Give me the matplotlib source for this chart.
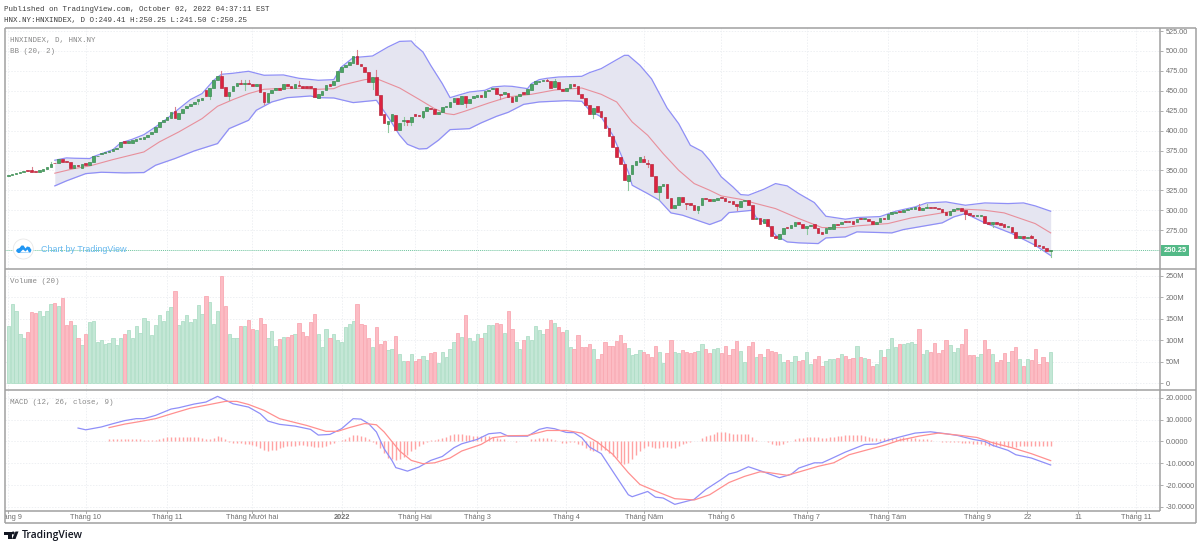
import numpy as np
import matplotlib
matplotlib.use("Agg")
import matplotlib.pyplot as plt
from matplotlib.patches import Circle, Polygon, Rectangle

# open / close of every daily candle
opens = [343.5,344.5,346,347,347.5,349.5,350,349,348,349,352,354,359.5,359,364.5,362,360.5,353,357.5,353.5,
 359,357.5,360.7,367.8,370.3,371.6,372.8,374.5,376.6,379.5,386.6,385,385,387.5,389,390,392,396,398,404.5,
 411,413.5,416,425,415,422,429,431,433,437,439,450.5,444,453,463,469,455,444,450,456,
 460,458.5,460,458,456,459,449,436,447,451,453,452,458,456,454,457.5,456,456,455.5,454,
 441,445,450.5,458,457,462,474,480,482,485,493.5,483,480,474,461,467,445,421,408,412,
 420,401,412,413,411,420.5,420,417,425,429,427.5,421,424,430,430,436,441,434,443,435,
 441,442.3,444.3,442.3,449.8,452.3,453,446.4,445.6,447.7,442.7,436.8,443.1,448.1,446.4,451.5,459,461,461.9,464,
 461.9,454.8,461,452.3,449.8,453.5,459,456.5,446.4,441.4,431.8,421.4,430.6,424.7,416.8,403.8,393.4,380,367,358.7,
 336.9,345.3,357.4,360.7,364.1,359.5,358.7,342.8,323.1,331.1,333.2,316,302.6,307.2,316.4,309.8,309.8,307.2,300.1,306.4,
 315.6,313.9,311.4,312.7,316.9,315.6,312.3,311.4,307.7,304.3,311.4,313.1,306.4,288.9,291,283.8,288.9,280.5,268.4,264.6,
 270,278.8,278,280.1,285.5,283,278.4,280.1,282.6,278,273,272.1,277.1,276.3,282.6,282.6,286.4,286.4,287.2,285.1,
 290.1,289.3,289.3,286.4,283.4,285.5,290.9,289.3,295.1,297.2,298.9,298.5,301,301.8,302.2,304.3,301,303.5,304.3,304.3,
 303.5,301.8,298,294.7,299.3,301.8,302.6,300.6,296.8,294.7,293,293.5,293,286,283,286,284.3,282.6,278.8,278.8,
 273.4,265.4,267.5,265,267.5,264.6,256.7,255.8,252.9,249.41]
closes = [344.5,346,347,348.5,349.5,349,348.5,348,350,352.5,354,358,359,364,361,360.5,353,357,356,358,
 357.5,361,367.8,368.7,371.6,372.8,374.5,376.6,378.3,385.8,385,387.5,388,389,390.5,392.5,395,398,404.5,411,
 413.5,417,424,416,422,427.5,431,433,436,439.5,441,443,453,463,469,454,444,449,456,460,
 458.5,459.5,458,456,459,448,436,447,451,453,451.5,458,456,453.5,458,456,454,454,453,442,
 445.5,450,457,456,462,474.5,480,482,486,493.5,483,481,474,461,467,445,420,409,412,421,
 401,409,412,411,416.5,418,418,425,430,427,421,424,430,431.5,436.5,441,434,443,435,440,
 443,444.3,441.8,449.8,451.5,453.1,445.6,445.2,448.5,441.8,436,443.9,446.4,446.4,451.9,459,461.9,462.7,463.2,461.9,
 453.5,461.9,452.7,450.2,454,459,456.5,446.4,441.4,431.8,420.9,428.1,423.4,416.8,403.8,393.4,380,367,358.7,337.8,
 344.9,357.4,361.6,367,361.2,358.7,343.2,323.1,330.6,333.2,316,302.6,307.2,316.4,310.6,308.5,307.2,300.1,306,315.6,
 313.9,311.4,313.9,316,315.2,312.3,310.6,307.7,306,311.4,313.1,307.2,288.9,291,283.4,288.9,280.9,268.4,265,270,
 278.4,278,281.7,285.1,283.4,278,280.1,281.7,278,272.1,270.9,278,278.8,282.6,281.7,286,285.1,285.5,282.6,289.3,
 289.3,290.1,286.4,283.4,285.5,290.1,289.3,295.1,297.6,298.5,298,301,302.2,303.1,304.3,300.1,303.5,304.7,303.1,302.6,
 301.8,297.6,294.7,299.3,301.4,302.6,299.3,295.1,294.3,293,293.9,293.9,284.7,283,285.1,283.4,281.7,278.8,280.5,273,
 265,267.5,265.9,266.3,265,255.4,255,252.9,249.6,250.25]

# the wicks that can actually be seen at this size
wick_hi = {6:355,11:361,43:430,55:475,60:463,61:464,62:464,75:462,90:500.8,95:475.7,102:417,139:465,141:465.2,
           164:367.9,165:362.8,235:308.5,237:308.5,264:268.8}
wick_lo = {49:434,52:440,57:439,61:450.6,66:433,94:452.7,98:398.4,102:406.7,103:406.7,104:406.7,107:416,118:429.7,
           127:439.3,151:416.3,160:325.2,165:354.5,168:313.5,175:302.2,178:297.2,188:300.1,206:270.9,247:289.7,
           254:279.2,269:241.5}

# Bollinger bands (bar, value)
bb_up_x = [12,15,17,21,22,27,29,32,35,38,41,43,47,50,53,55,58,62,66,71,75,80,84,86,89,94,98,101,104,105,107,109,112,114,116,
           119,123,125,128,130,134,135,137,139,142,148,150,153,157,159,160,163,166,170,173,176,179,181,184,187,189,191,195,198,
           201,204,208,211,216,219,225,229,234,237,242,247,252,258,262,265,269]
bb_up = [362.9,365.8,365.4,365,367.5,376.2,384.6,389.2,395,404.7,415.1,423.5,439,446.5,463.2,470.7,472,474.5,469.5,469.9,465.7,
         463.2,464,480,491.6,493.7,505,512,512.5,507,498.7,482,459,441.4,444.3,448.5,450.6,454.8,456,455.6,452.7,459,464,465.7,
         467.3,468.2,472.8,477.8,489,494.5,494.5,482,465,428.5,408.8,381.7,374.1,362.8,342,329.4,319.8,319,326.5,333.6,330.7,
         321,309.8,292.6,288.9,291,292.2,298.9,304.3,309.3,310.6,306.4,309.3,308.5,309.3,305.6,298.9]
bb_mid_x = [12,17,21,27,35,39,44,50,54,58,62,66,71,75,80,84,86,92,95,101,106,110,113,115,118,124,129,135,141,148,153,157,161,
            165,169,173,177,181,184,189,193,198,204,210,216,219,227,233,241,247,252,257,265,269]
bb_mid = [346.6,352.4,355.7,363.7,373.3,385.9,398.4,415.1,430.6,439,446.5,451.9,453.1,453.1,451.9,452.7,457,464,465.3,453.5,439.3,
          427.6,421.4,420.1,424.7,434.7,442.3,445.6,451,453.5,445.6,436,410.9,394.2,371.2,350.3,333.6,325.2,318.1,313.9,308.5,
          302.2,289.7,278.4,278.4,280.5,283.4,290.5,296.8,301.4,300.1,296.8,283.4,271.7]
bb_lo_x = [12,15,20,24,30,35,38,43,48,54,57,62,64,68,72,78,80,84,89,95,98,101,103,106,108,111,114,119,122,126,129,133,137,144,
           148,150,153,156,160,161,165,168,171,174,179,181,184,186,192,193,196,198,201,204,209,211,216,219,228,231,241,244,247,
           252,259,265,269]
bb_lo = [330.7,337,346.1,347.8,347,347.4,356.6,365,374.6,383.8,402.6,413,425.6,436,441.4,443.5,441.4,441,435.2,438.1,417.2,394.2,
         382.9,377,377.5,388,401.3,402.5,409.7,418,423,433,436,437.6,436.8,425.5,417.2,394.2,348.2,331.5,321,312.7,296.8,293.9,
         285.5,282.2,287.6,297.2,300.1,291,282.6,268.8,260.4,259.2,258.3,265.4,266.7,273,271.7,275.9,284.3,291.8,296,284.3,
         270.9,256.2,243.3]

# volume in millions, one per candle
volumes = [133,184,168,116,105,119,165,164,169,157,169,184,186,180,198,135,145,135,105,89,
 114,143,144,96,102,92,94,105,89,105,114,123,106,133,117,151,145,113,136,160,
 145,168,178,216,135,145,159,143,150,182,161,204,190,139,168,251,180,116,106,106,
 133,133,148,126,124,153,138,105,122,88,103,108,108,113,115,140,120,110,143,161,
 115,85,127,105,115,101,97,131,139,144,184,138,135,106,85,130,91,98,78,80,
 111,68,52,52,68,52,57,64,54,70,74,47,72,62,81,97,118,108,159,105,
 99,116,105,118,136,136,140,137,118,168,126,96,81,102,111,101,133,123,115,126,
 148,140,130,119,123,84,81,113,85,84,92,81,57,68,97,87,88,99,113,95,
 83,66,68,77,72,68,61,88,72,47,71,102,72,71,77,74,71,72,75,91,
 80,71,80,83,71,88,66,79,99,75,50,86,97,62,68,61,80,75,74,68,
 49,54,49,63,51,54,73,45,57,63,40,51,56,57,58,68,64,57,60,86,
 62,59,57,41,45,77,62,79,106,84,91,91,93,97,92,127,68,77,72,93,
 71,78,101,89,72,83,91,127,66,66,62,68,100,79,68,50,54,70,50,75,
 84,56,41,56,54,81,45,61,50,73]

# MACD lines (bar, value)
macd_x = [18,20,24,27,30,33,35,38,42,44,48,51,54,55,58,62,65,67,70,74,78,80,83,86,89,91,93,95,97,99,100,101,103,106,109,112,115,
          117,121,124,127,129,134,137,139,141,144,146,148,150,153,156,160,161,165,167,169,172,177,180,184,186,188,191,195,199,
          202,204,208,210,212,216,221,224,227,230,234,238,242,245,249,252,254,258,260,264,269]
macd = [6.1,5.3,6.6,8.1,9.5,10.4,10.4,11.9,14.8,15.4,17.1,18,20.6,19.8,17.2,15.7,12.7,9.3,7.8,7,5.5,2.9,3.2,5.8,10.4,10.2,8.1,
        4.3,-3.4,-8.7,-12,-12.5,-13.6,-11.7,-8.7,-6.9,-2.9,-1.1,0.9,3.5,4,2.4,2.4,5.5,6.3,5.8,4.1,4,1.7,-2.6,-5.6,-13.7,-24.4,
        -25.3,-22.9,-25.5,-25.9,-28.8,-26.5,-22,-17.4,-14.9,-14,-11.6,-14,-16.6,-15.1,-12.2,-9.8,-9.8,-8.2,-4.9,-1.4,-1.2,0.5,
        2,3.8,4.4,3.5,2.7,0.9,0,-1.8,-4.1,-6.1,-7.6,-10.8]
signal_x = [26,30,34,38,43,47,52,56,59,62,66,70,77,82,85,88,92,95,97,101,104,107,110,114,117,122,125,129,134,139,144,148,152,
            156,160,163,167,172,177,181,186,190,194,196,201,204,209,213,217,222,226,230,235,240,245,250,254,259,264,269]
signal = [6.3,7.9,9.1,10.4,13.1,15.2,16.9,18.3,18.3,16.9,14.2,10.4,7.3,4.6,4.6,6.3,8.2,7.6,4.3,-4.4,-8.7,-10.2,-9.8,-7.6,-4.4,
          -1.4,1.7,2.6,2.7,5,5,3.8,-0.3,-5.9,-14.3,-19.7,-22.7,-26.2,-26.8,-24.4,-18.8,-16,-13.9,-14.2,-15.5,-14,-11.4,-9.8,
          -6.1,-3.7,-1.8,0.5,2.4,3.8,2.9,1.8,-0.6,-2.9,-5.6,-8.8]
hist_start = 26
hist = [0.9,1,1,1.1,1.2,1.2,1.2,1,0.9,0.8,0.7,0.6,0.6,0.9,1.5,1.9,1.9,2.2,2,1.9,1.8,1.8,1.8,1.8,1.6,1.3,1.2,1.7,2.3,2.2,1.2,
 -0.5,-0.6,-0.7,-0.8,-1,-1.2,-1.8,-2.3,-3,-4,-4.2,-4,-3.8,-3.2,-2.6,-2.3,-2,-1.9,-1.8,-1.8,-1.9,-2.1,-2.5,-2.7,-2.4,-2,-1.4,-0.9,
 0.4,0.7,1.2,2,2.9,3,2.4,2,1,-0.3,-1,-3,-5.5,-7.5,-8,-8.5,
 -8,-7,-6,-4.4,-3.6,-2.2,-1.2,-0.3,0.8,0.8,1,1.7,2.1,2.9,3.2,3.4,3.5,2.9,2.7,2.6,2.4,2.6,2.3,2.3,2,1.5,1.2,0.9,0.3,0.1,-0.2,0,0,
 0.1,0.9,1,1.4,1.7,1.4,1,0.8,0.1,-0.6,-0.6,-0.5,-0.5,-1.1,-1.8,-3.2,-4.1,-4.4,-4.4,-4,-4.1,-5.5,-6.7,-7.6,-9.9,-10.4,-9.8,-7.9,
 -6.1,-4.6,-2.9,-2.1,-2.4,-2.9,-2.9,-2.6,-2.7,-3.2,-3.2,-2,-1.1,-0.8,-0.3,0,0.3,1.7,2.6,3,3.5,4.1,4.4,4.1,3.8,3.2,3.2,3.2,3.5,3.2,
 1.8,0.8,0.3,0.2,-0.4,-1,-1.7,-1.5,-1,-0.5,0,1.2,1.7,
 1.7,2.1,2.2,2,1.8,1.7,1.7,1.8,2,2.4,2.6,2.7,2.7,2.7,2.7,2.7,2.6,2,1.7,1.4,1.2,1.4,1.5,1.7,1.7,1.7,1.8,1.7,1.7,1.5,1.2,0.9,0.9,0.6,
 0.3,0,-0.3,-0.3,-0.4,-0.4,-0.4,-0.6,-0.8,-0.9,-1,-1.1,-1.2,-1.5,-2,-2.1,-2.2,-2.3,-2.3,-2.4,-2.5,-2.4,-2.3,-2.3,-2.2,-2.2,-2.2,
 -2.2,-2.2,-2.2,-2.2]

last_price = 250.25
price_ticks = [275,300,325,350,375,400,425,450,475,500,525]
vol_ticks = [0,50,100,150,200,250]
macd_ticks = [-30,-20,-10,0,10,20]
time_pos = [0,20,41,63,86,105,121,144,164,184,206,227,250,263,276,291]
time_labels = ["Tháng 9","Tháng 10","Tháng 11","Tháng Mười hai","2022","Tháng Hai","Tháng 3","Tháng 4",
               "Tháng Năm","Tháng 6","Tháng 7","Tháng Tám","Tháng 9","22","11","Tháng 11"]

assert len(opens) == len(closes) == len(volumes) == 270, (len(opens), len(closes), len(volumes))
assert len(hist) == 270 - hist_start, len(hist)
assert len(bb_up_x) == len(bb_up) and len(bb_mid_x) == len(bb_mid) and len(bb_lo_x) == len(bb_lo)
assert len(macd_x) == len(macd) and len(signal_x) == len(signal)

W, H = 1200, 547
GRID = "#eef0f3"
FRAME = "#a0a0a0"
TXT = "#6f6f6f"
SANS = "Liberation Sans"
MONO = "Liberation Mono"
bars = np.arange(len(closes))
is_up = np.array(closes) >= np.array(opens)
X0, X1 = (4.5 - 8.3) / 3.875, (1160.3 - 8.3) / 3.875

fig = plt.figure(figsize=(W / 100, H / 100), dpi=100, facecolor="white")


def panel(top, bottom):
    ax = fig.add_axes([4.5 / W, 1 - bottom / H, (1160.3 - 4.5) / W, (bottom - top) / H])
    ax.set_xlim(X0, X1)
    for s in ax.spines.values():
        s.set_visible(False)
    ax.yaxis.tick_right()
    ax.tick_params(axis="y", length=2, width=0.6, color=FRAME, labelsize=5.3, labelcolor=TXT, pad=2)
    ax.set_xticks(time_pos)
    ax.tick_params(axis="x", length=0, labelbottom=False)
    ax.grid(True, color=GRID, lw=0.7, ls=(0, (1.5, 1.5)))
    ax.set_axisbelow(True)
    return ax


# prix + bandes
ax1 = panel(28, 268)
ax1.set_ylim(250.25 - (268 - 250) / 0.797, 250.25 + (250 - 28) / 0.797)
ax1.set_yticks(price_ticks, [f"{v:.2f}" for v in price_ticks], family=SANS)
grid_x = np.arange(12, 270)
ax1.fill_between(grid_x, np.interp(grid_x, bb_lo_x, bb_lo), np.interp(grid_x, bb_up_x, bb_up), color="#e5e5f1", lw=0, zorder=1)
ax1.plot(bb_up_x, bb_up, color="#8f8ff6", lw=0.9, zorder=2)
ax1.plot(bb_lo_x, bb_lo, color="#8f8ff6", lw=0.9, zorder=2)
ax1.plot(bb_mid_x, bb_mid, color="#e88f9b", lw=0.8, zorder=2)
ax1.axhline(last_price, color="#6cc39c", lw=0.7, ls=(0, (1, 1)), zorder=2)

for i in bars:
    col = "#8cc79c" if is_up[i] else "#d9808e"
    if i in wick_hi:
        ax1.plot([i, i], [max(opens[i], closes[i]), wick_hi[i]], color=col, lw=0.8, zorder=3)
    if i in wick_lo:
        ax1.plot([i, i], [min(opens[i], closes[i]), wick_lo[i]], color=col, lw=0.8, zorder=3)
body_low = np.minimum(opens, closes)
body_h = np.maximum(np.abs(np.array(closes) - np.array(opens)), 1.0)
ax1.bar(bars[is_up], body_h[is_up], bottom=body_low[is_up], width=0.68, color="#4aa564", edgecolor="#3b8a51", lw=0.5, zorder=4)
ax1.bar(bars[~is_up], body_h[~is_up], bottom=body_low[~is_up], width=0.68, color="#dc2340", edgecolor="#b92a3e", lw=0.5, zorder=4)

# volume
ax2 = panel(269.5, 389)
ax2.set_ylim(-(389 - 383.3) / 0.4293, (383.3 - 269.5) / 0.4293)
ax2.set_yticks(vol_ticks, ["0"] + [f"{v}M" for v in vol_ticks[1:]], family=SANS)
vols = np.array(volumes)
ax2.bar(bars[is_up], vols[is_up], width=0.82, color="#c4e7d6", edgecolor="#afdec7", lw=0.6)
ax2.bar(bars[~is_up], vols[~is_up], width=0.82, color="#fcbcc4", edgecolor="#f9a9b3", lw=0.6)

# macd
ax3 = panel(390, 511)
ax3.set_ylim(-(511 - 441.4) / 2.186, (441.4 - 390) / 2.186)
ax3.set_yticks(macd_ticks, [f"{v:.4f}" for v in macd_ticks], family=SANS)
ax3.vlines(np.arange(hist_start, 270), 0, hist, color="#ffa3a3", lw=1)
ax3.plot(macd_x, macd, color="#8f8ff8", lw=0.9)
ax3.plot(signal_x, signal, color="#ff9090", lw=0.9)

# axe du temps
ax_t = fig.add_axes([4.5 / W, 1 - 523 / H, (1160.3 - 4.5) / W, 12 / H])
ax_t.set_xlim(X0, X1)
ax_t.set_ylim(0, 1)
ax_t.axis("off")
for p, lab in zip(time_pos, time_labels):
    ax_t.plot([p, p], [1, 0.8], color=FRAME, lw=0.6)
    ax_t.text(p, 0.42, lab, ha="center", va="center", fontsize=5.3, color=TXT, family=SANS, clip_on=True,
              fontweight="bold" if lab == "2022" else "normal")

# overlay en pixels : cadres, textes, logos
ov = fig.add_axes([0, 0, 1, 1], zorder=10)
ov.set_xlim(0, W)
ov.set_ylim(H, 0)
ov.axis("off")
ov.patch.set_alpha(0)
for y in [28, 268.5, 389.5, 511, 523]:
    x_end = 1160.3 if y == 511 else 1195.5
    ov.plot([4.5, x_end], [y, y], color=FRAME, lw=1.1, solid_capstyle="butt")
ov.plot([4.5, 4.5], [28, 523], color=FRAME, lw=1.1, solid_capstyle="butt")
ov.plot([1160.3, 1160.3], [28, 511], color=FRAME, lw=1.1, solid_capstyle="butt")
ov.plot([1195.5, 1195.5], [28, 523], color=FRAME, lw=1.1, solid_capstyle="butt")

ov.text(4, 9.5, "Published on TradingView.com, October 02, 2022 04:37:11 EST", fontsize=5.45, family=MONO, color="#3d3d3d", va="center")
ov.text(4, 20.5, "HNX.NY:HNXINDEX, D O:249.41 H:250.25 L:241.50 C:250.25", fontsize=5.45, family=MONO, color="#3d3d3d", va="center")
ov.text(10, 40.5, "HNXINDEX, D, HNX.NY", fontsize=5.45, family=MONO, color="#888888", va="center")
ov.text(10, 51.5, "BB (20, 2)", fontsize=5.45, family=MONO, color="#888888", va="center")
ov.text(10, 281.5, "Volume (20)", fontsize=5.45, family=MONO, color="#888888", va="center")
ov.text(10, 402, "MACD (12, 26, close, 9)", fontsize=5.45, family=MONO, color="#888888", va="center")

# etiquette du dernier prix
ov.add_patch(Rectangle((1160.5, 245), 28.5, 10.5, color="#53b987", lw=0))
ov.text(1175, 250.3, "250.25", fontsize=5.4, family=SANS, color="white", fontweight="bold", ha="center", va="center")

# filigrane
ov.add_patch(Circle((23.3, 249), 10, facecolor="white", edgecolor="#e8e8e8", lw=0.6))
ov.add_patch(Polygon([(16, 251), (17, 249), (19.5, 248), (21.5, 245.5), (23.5, 245.5), (25.5, 248.5), (27, 246.5),
                      (29.5, 247), (31.5, 250), (30.5, 252.5), (18, 253)], closed=True, color="#2196f3", lw=0))
ov.add_patch(Polygon([(20, 252.5), (23, 249.5), (25.5, 251.5), (27.5, 249.5), (29, 252.5)], closed=True, color="white", lw=0))
ov.text(41, 249, "Chart by TradingView", fontsize=6.4, family=SANS, color="#66b8ee", va="center")

# logo du bas
ov.add_patch(Polygon([(4, 531.5), (11.5, 531.5), (11.5, 539), (8, 539), (8, 534.5), (4, 534.5)], closed=True, color="#131722", lw=0))
ov.add_patch(Circle((13.2, 533), 1.5, color="#131722", lw=0))
ov.add_patch(Polygon([(12, 539), (15.5, 531.5), (18.5, 531.5), (15.5, 539)], closed=True, color="#131722", lw=0))
ov.text(21.7, 535.3, "TradingView", fontsize=7.5, family="Open Sans", fontweight="semibold", color="#131722", va="center")

fig.savefig("out.png", dpi=100)
